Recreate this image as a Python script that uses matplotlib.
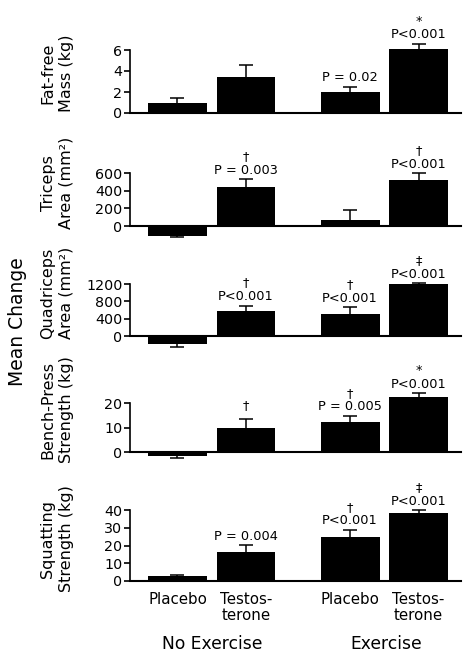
import matplotlib.pyplot as plt

W, H = 468, 660

groups = ["No Exercise", "Exercise"]
treatments = ["Placebo", "Testos-\nterone", "Placebo", "Testos-\nterone"]

# mean change and standard error, bars: no-ex placebo, no-ex T, ex placebo, ex T
fat_free = [1.0, 3.4, 2.0, 6.1]
fat_free_se = [0.46, 1.2, 0.48, 0.47]
triceps = [-110, 444, 68, 524]
triceps_se = [19, 87, 110, 76]
quadriceps = [-191, 577, 508, 1200]
quadriceps_se = [70, 123, 154, 15]
bench = [-1.5, 9.9, 12.3, 22.6]
bench_se = [0.8, 3.5, 2.4, 1.5]
squat = [2.8, 16.3, 24.8, 38.5]
squat_se = [0.6, 3.8, 3.9, 1.3]

ylabels = ["Fat-free\nMass (kg)", "Triceps\nArea (mm²)", "Quadriceps\nArea (mm²)",
           "Bench-Press\nStrength (kg)", "Squatting\nStrength (kg)"]
yticks = [[0, 2, 4, 6], [0, 200, 400, 600], [0, 400, 800, 1200],
          [0, 10, 20], [0, 10, 20, 30, 40]]
notes = [
    ["", "", "P = 0.02", "*\nP<0.001"],
    ["", "†\nP = 0.003", "", "†\nP<0.001"],
    ["", "†\nP<0.001", "†\nP<0.001", "‡\nP<0.001"],
    ["", "†", "†\nP = 0.005", "*\nP<0.001"],
    ["", "P = 0.004", "†\nP<0.001", "‡\nP<0.001"],
]
values = [fat_free, triceps, quadriceps, bench, squat]
errors = [fat_free_se, triceps_se, quadriceps_se, bench_se, squat_se]

# layout: pixel row of zero line, pixels per unit, y limits
zero_px = [113, 226, 336, 452, 581]
px_per_unit = [63 / 6, 52.7 / 600, 52 / 1200, 48.7 / 20, 71 / 40]
ylims = [(-0.5, 7), (-200, 680), (-320, 1300), (-3.5, 25), (-1, 41)]
label_cy = [73, 183, 293, 410, 539]

xpos = [0, 1, 2.52, 3.52]
xlim = (-0.693, 4.139)
left_px, right_px = 130, 461

fig = plt.figure(figsize=(W / 100, H / 100), dpi=100)

for i in range(5):
    lo, hi = ylims[i]
    s = px_per_unit[i]
    top_px = zero_px[i] - hi * s
    bot_px = zero_px[i] - lo * s
    ax = fig.add_axes([left_px / W, 1 - bot_px / H,
                       (right_px - left_px) / W, (bot_px - top_px) / H])
    ax.patch.set_alpha(0)

    vals = values[i]
    err = errors[i]
    # one-sided error bars, pointing away from zero, cap only at the far end
    lower = [e if v < 0 else 0 for v, e in zip(vals, err)]
    upper = [e if v >= 0 else 0 for v, e in zip(vals, err)]
    ends = [v - e if v < 0 else v + e for v, e in zip(vals, err)]
    ax.errorbar(xpos, vals, yerr=[lower, upper], fmt='none', ecolor='black',
                elinewidth=1.1, capsize=0, zorder=1)
    ax.plot(xpos, ends, linestyle='none', marker='_', markersize=10,
            markeredgewidth=1.1, color='black', zorder=1)
    ax.bar(xpos, vals, width=0.86, color='black', zorder=2)

    for x, v, e, t in zip(xpos, vals, err, notes[i]):
        if t:
            off = 5 if t == "†" else 2
            ax.annotate(t, xy=(x, v + e), xytext=(0, off), textcoords='offset points',
                        ha='center', va='bottom', fontsize=9.3, linespacing=1.05,
                        annotation_clip=False)

    ax.set_xlim(*xlim)
    ax.set_ylim(lo, hi)
    ax.set_yticks(yticks[i])
    ax.tick_params(axis='y', length=4, width=1.2, labelsize=10.3, pad=1.5)
    for side in ['top', 'right']:
        ax.spines[side].set_visible(False)
    ax.spines['left'].set_bounds(0, yticks[i][-1])
    ax.spines['left'].set_linewidth(1.2)
    ax.spines['bottom'].set_position(('data', 0))
    ax.spines['bottom'].set_linewidth(1.5)

    if i == 4:
        ax.set_xticks(xpos)
        ax.set_xticklabels(treatments, fontsize=10.8, linespacing=1.05)
        ax.tick_params(axis='x', length=0, pad=8)
        for gx, g in zip([0.5, 3.04], groups):
            ax.annotate(g, xy=(gx, 0), xytext=(0, -45.5), textcoords='offset points',
                        ha='center', va='center', fontsize=12.3, annotation_clip=False)
    else:
        ax.set_xticks([])

    fig.text(57 / W, 1 - label_cy[i] / H, ylabels[i], rotation=90,
             ha='center', va='center', fontsize=11.5, linespacing=1.25)

fig.text(18 / W, 1 - 322 / H, "Mean Change", rotation=90,
         ha='center', va='center', fontsize=13.5)

fig.savefig("out.png", dpi=100)
